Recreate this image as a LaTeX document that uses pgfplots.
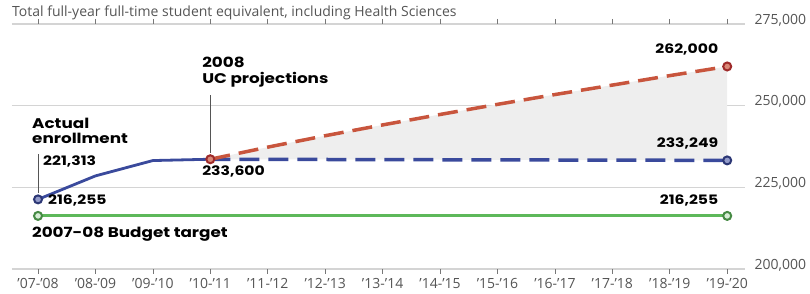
\documentclass[border=0pt]{standalone}
\usepackage{fontspec}
\setmainfont{Open Sans}
\newfontfamily\pop[FakeStretch=1.2]{Poppins}
\usepackage{pgfplots}
\pgfplotsset{compat=1.18}
\usepgfplotslibrary{fillbetween}
\definecolor{cblue}{HTML}{3A4A9C}
\definecolor{cred}{HTML}{C8553D}
\definecolor{cdred}{HTML}{9E2A2A}
\definecolor{cgreen}{HTML}{5DB85A}
\definecolor{cgrid}{HTML}{D4D4D4}
\definecolor{ctext}{HTML}{555555}
\begin{document}
\begin{tikzpicture}
\begin{axis}[
 at={(0pt,0pt)}, anchor=south west,
 scale only axis, width=733pt, height=245pt,
 xmin=-0.453, xmax=12.31, ymin=200000, ymax=275000,
 axis line style={draw=none},
 scaled y ticks=false,
 ytick={200000,225000,250000,275000},
 yticklabels={{200,000},{225,000},{250,000},{275,000}},
 yticklabel pos=right,
 y tick label style={anchor=west, xshift=1pt, yshift=4pt, font=\fontsize{14}{14}\selectfont, text=ctext},
 ytick style={draw=none},
 ymajorgrids, grid style={cgrid, line width=1.4pt},
 xtick={0,...,12},
 xticklabels={{'07-'08},{'08-'09},{'09-'10},{'10-'11},{'11-'12},{'12-'13},{'13-'14},{'14-'15},{'15-'16},{'16-'17},{'17-'18},{'18-'19},{'19-'20}},
 x tick label style={font=\fontsize{14}{14}\selectfont, text=ctext, yshift=-1pt},
 xtick style={ctext!80, line width=0.7pt},
 tick align=outside, major tick length=5pt,
 clip=false,
]
% projection paths and shading
\addplot[name path=red, draw=none, forget plot] coordinates {(3,233600) (4,237300) (5,240800) (6,244100) (7,247300) (8,250400) (9,253400) (10,256300) (11,259200) (12,262000)};
\addplot[name path=blue, draw=none, forget plot] coordinates {(3,233600) (12,233249)};
\addplot[gray!13, forget plot] fill between[of=red and blue];
% budget target
\addplot[cgreen, line width=3pt] coordinates {(0,216255) (12,216255)};
\addplot[only marks, mark=*, mark size=4pt, mark options={draw=cgreen!75!black, fill=cgreen!25, line width=2pt}] coordinates {(0,216255) (12,216255)};
% actual
\addplot[cblue, line width=2.8pt] coordinates {(0,221313) (1,228500) (2,233200) (3,233600)};
% blue projection
\addplot[cblue, line width=3.5pt, dash pattern=on 20pt off 9pt] coordinates {(3,233600) (12,233249)};
% red projection
\addplot[cred, line width=3.5pt, dash pattern=on 20pt off 9pt] coordinates {(3,233600) (4,237300) (5,240800) (6,244100) (7,247300) (8,250400) (9,253400) (10,256300) (11,259200) (12,262000)};
% leader lines
\draw[ctext, line width=0.9pt] (axis cs:0,223300) -- (axis cs:0,235300);
\draw[ctext, line width=0.9pt] (axis cs:3,235600) -- (axis cs:3,253200);
% markers
\addplot[only marks, mark=*, mark size=4pt, mark options={draw=cblue!75!black, fill=cblue!55, line width=2pt}] coordinates {(0,221313) (12,233249)};
\addplot[only marks, mark=*, mark size=4pt, mark options={draw=cdred, fill=cred!70, line width=2pt}] coordinates {(3,233600) (12,262000)};
% annotations
\node[anchor=west, font=\pop\bfseries\fontsize{14}{15}\selectfont, align=left, inner sep=0pt] at (axis cs:-0.105,242400) {Actual\\enrollment};
\node[anchor=west, font=\pop\bfseries\fontsize{13}{13}\selectfont, inner sep=0pt] at (axis cs:0.087,233000) {221,313};
\node[anchor=west, font=\pop\bfseries\fontsize{13}{13}\selectfont, inner sep=0pt] at (axis cs:0.174,221100) {216,255};
\node[anchor=west, font=\pop\bfseries\fontsize{14}{15}\selectfont, inner sep=0pt] at (axis cs:-0.105,210800) {2007-08 Budget target};
\node[anchor=west, font=\pop\bfseries\fontsize{14}{16.5}\selectfont, align=left, inner sep=0pt] at (axis cs:2.857,260200) {2008\\UC projections};
\node[anchor=west, font=\pop\bfseries\fontsize{13}{13}\selectfont, inner sep=0pt] at (axis cs:2.857,229800) {233,600};
\node[anchor=east, font=\pop\bfseries\fontsize{13}{13}\selectfont, inner sep=0pt] at (axis cs:11.847,267300) {262,000};
\node[anchor=east, font=\pop\bfseries\fontsize{13}{13}\selectfont, inner sep=0pt] at (axis cs:11.847,238300) {233,249};
\node[anchor=east, font=\pop\bfseries\fontsize{13}{13}\selectfont, inner sep=0pt] at (axis cs:11.847,220900) {216,255};
\node[anchor=west, font=\fontsize{14}{14}\selectfont, text=ctext, inner sep=0pt] at (axis cs:-0.453,278400) {Total full-year full-time student equivalent, including Health Sciences};
\end{axis}
\pgfresetboundingbox
\path[use as bounding box] (-12pt,-25pt) rectangle (798pt,269pt);
\end{tikzpicture}
\end{document}
